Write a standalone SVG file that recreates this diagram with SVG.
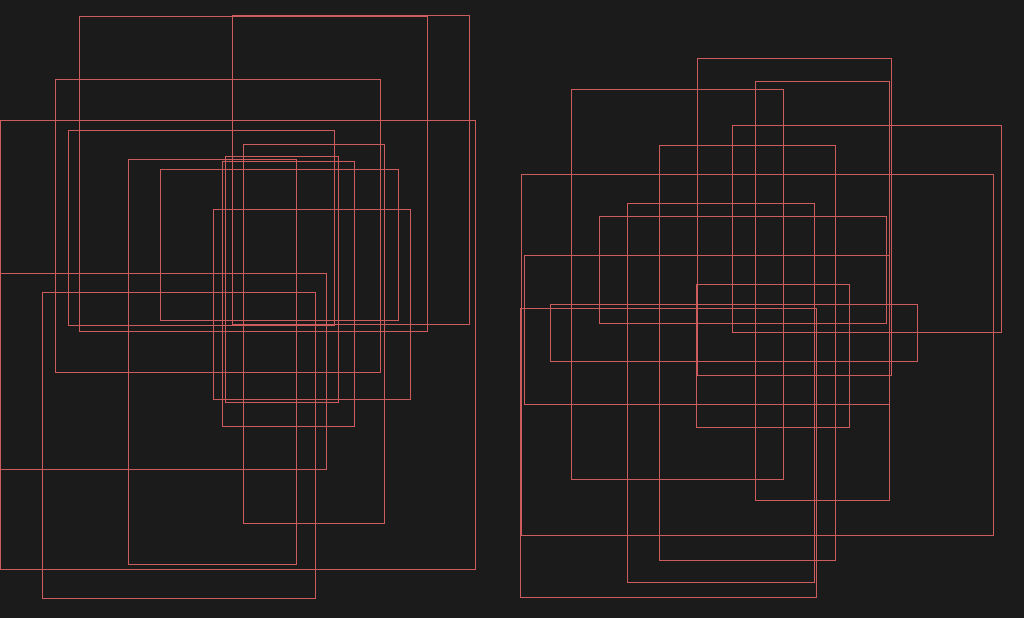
<svg xmlns="http://www.w3.org/2000/svg" width="1024" height="618" viewBox="0 0 1024 618">
<style>
.r{fill:none;stroke:#cd5c5c;stroke-width:1}
</style>
<rect x="0" y="0" width="1024" height="618" fill="#1b1b1b"/>
<g id="left-cluster">
<g id="rA"><rect class="r" x="79.5" y="16.5" width="348" height="315"/></g>
<g id="rB"><rect class="r" x="232.5" y="15.5" width="237" height="309"/></g>
<g id="rC"><rect class="r" x="55.5" y="79.5" width="325" height="293"/></g>
<g id="rD"><rect class="r" x="0.5" y="120.5" width="475" height="449"/></g>
<g id="rE"><rect class="r" x="68.5" y="130.5" width="266" height="195"/></g>
<g id="rF"><rect class="r" x="243.5" y="144.5" width="141" height="379"/></g>
<g id="rG"><rect class="r" x="225.5" y="156.5" width="113" height="246"/></g>
<g id="rH"><rect class="r" x="128.5" y="159.5" width="168" height="405"/></g>
<g id="rI"><rect class="r" x="222.5" y="161.5" width="132" height="265"/></g>
<g id="rJ"><rect class="r" x="160.5" y="169.5" width="238" height="151"/></g>
<g id="rK"><rect class="r" x="0.5" y="273.5" width="326" height="196"/></g>
<g id="rL"><rect class="r" x="42.5" y="292.5" width="273" height="306"/></g>
<g id="rM"><rect class="r" x="213.5" y="209.5" width="197" height="190"/></g>
</g>
<g id="right-cluster">
<g id="rN"><rect class="r" x="697.5" y="58.5" width="194" height="317"/></g>
<g id="rO"><rect class="r" x="571.5" y="89.5" width="212" height="390"/></g>
<g id="rP"><rect class="r" x="755.5" y="81.5" width="134" height="419"/></g>
<g id="rQ"><rect class="r" x="732.5" y="125.5" width="269" height="207"/></g>
<g id="rR"><rect class="r" x="659.5" y="145.5" width="176" height="415"/></g>
<g id="rS"><rect class="r" x="521.5" y="174.5" width="472" height="361"/></g>
<g id="rT"><rect class="r" x="627.5" y="203.5" width="187" height="379"/></g>
<g id="rU"><rect class="r" x="599.5" y="216.5" width="287" height="107"/></g>
<g id="rV"><rect class="r" x="524.5" y="255.5" width="365" height="149"/></g>
<g id="rW"><rect class="r" x="696.5" y="284.5" width="153" height="143"/></g>
<g id="rX"><rect class="r" x="550.5" y="304.5" width="367" height="57"/></g>
<g id="rY"><rect class="r" x="520.5" y="308.5" width="296" height="289"/></g>
</g>
<g id="connectors"/>
</svg>
